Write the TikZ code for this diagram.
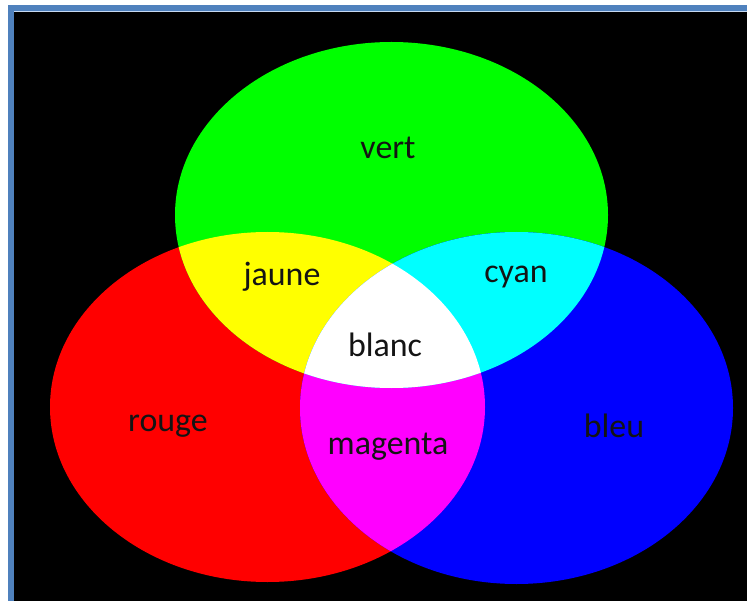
\documentclass[tikz,border=0pt]{standalone}
\usepackage{fontspec}
\setmainfont{Carlito}
\usepackage{tikz}
\definecolor{Frame}{HTML}{4F81BD}
\definecolor{Edge}{HTML}{C6D9F1}
\definecolor{Ink}{HTML}{141414}
\definecolor{Rouge}{HTML}{FF0000}
\definecolor{Vert}{HTML}{00FF00}
\definecolor{Bleu}{HTML}{0000FF}
\definecolor{Jaune}{HTML}{FFFF00}
\definecolor{Cyan}{HTML}{00FFFF}
\definecolor{Magenta}{HTML}{FF00FF}
\def\ellR{(267.5,407) ellipse [x radius=217.5, y radius=175]}
\def\ellV{(391.5,215) ellipse [x radius=216.5, y radius=173]}
\def\ellB{(516.5,408) ellipse [x radius=216.5, y radius=176]}

\begin{document}
\begin{tikzpicture}[
  x=0.02cm,y=-0.02cm,
  lbl/.style={font=\fontsize{19.3}{22}\selectfont,text=Ink,inner sep=0pt}
]
\useasboundingbox (0,0) rectangle (747,601);
\fill[white] (0,0) rectangle (747,601);
\fill[Frame] (8,5) rectangle (747,601);
\fill[black] (14,12) rectangle (747,601);
\draw[Edge,line width=0.6pt] (14,11.5) -- (747,11.5);
\fill[Rouge] \ellR;
\fill[Vert] \ellV;
\fill[Bleu] \ellB;
\begin{scope}
  \clip \ellR;
  \fill[Jaune] \ellV;
  \fill[Magenta] \ellB;
\end{scope}
\begin{scope}
  \clip \ellV;
  \fill[Cyan] \ellB;
\end{scope}
\begin{scope}
  \clip \ellR;
  \clip \ellV;
  \fill[white] \ellB;
\end{scope}
\node[lbl] (vert) at (388,148) {vert};
\node[lbl] (jaune) at (282,277) {jaune};
\node[lbl] (cyan) at (516,277) {cyan};
\node[lbl] (blanc) at (385,345) {blanc};
\node[lbl] (rouge) at (168,426) {rouge};
\node[lbl] (magenta) at (388,447) {magenta};
\node[lbl] (bleu) at (614,426) {bleu};
\end{tikzpicture}
\end{document}
